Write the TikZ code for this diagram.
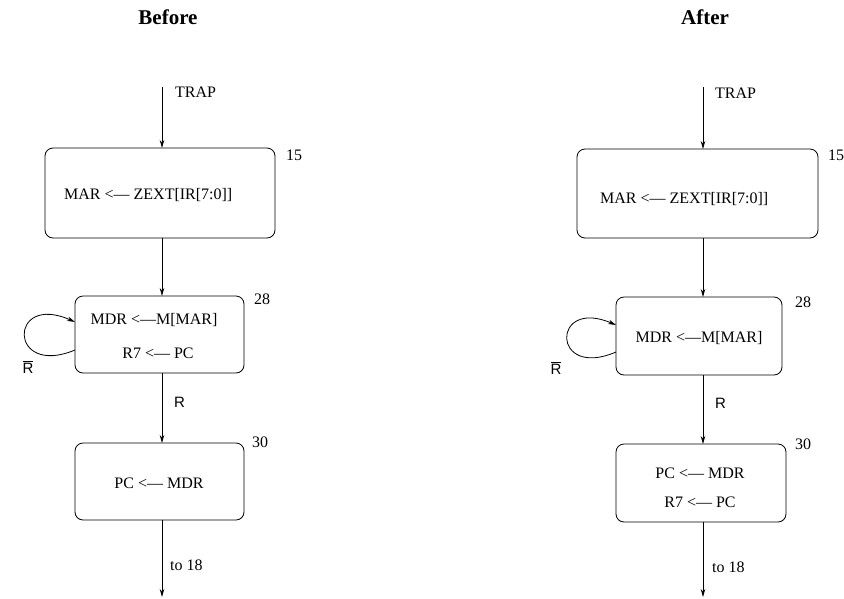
\documentclass[tikz,border=0pt]{standalone}
\usepackage{fontspec}
\setmainfont{Liberation Serif}
\newfontfamily\sansR{Liberation Sans}
\usetikzlibrary{arrows.meta}
\begin{document}
\begin{tikzpicture}[x=1pt,y=-1pt,
  stbox/.style={draw,rounded corners=8pt,line width=0.8pt,inner sep=0pt,outer sep=0pt},
  txt/.style={font=\fontsize{16}{19}\selectfont,inner sep=0pt},
  rlab/.style={font=\sansR\fontsize{15}{18}\selectfont,inner sep=0pt},
  ttl/.style={font=\fontsize{21}{25}\selectfont\bfseries,inner sep=0pt},
  arr/.style={-{Stealth[length=8pt,width=4.5pt]},line width=0.8pt}]
\useasboundingbox (0,0) rectangle (844,598);

% ---------- Before ----------
\node[ttl] (tB) at (168,17) {Before};
\coordinate (sL) at (162,87);
\node[stbox,minimum width=230pt,minimum height=90pt] (b15L) at (160,193) {};
\node[stbox,minimum width=169pt,minimum height=77pt] (b28L) at (159.5,334.5) {};
\node[stbox,minimum width=169pt,minimum height=77pt] (b30L) at (159.5,481.5) {};
\coordinate (eL) at (162,597);

\node[txt,anchor=west] (trapL) at (175,92) {TRAP};
\node[txt,anchor=west] (m15L) at (64,195) {MAR <--- ZEXT[IR[7:0]]};
\node[txt] (n15L) at (294,155) {15};
\node[txt] (m28aL) at (154,320) {MDR <---M[MAR]};
\node[txt] (m28bL) at (158,353) {R7 <--- PC};
\node[txt] (n28L) at (262,299) {28};
\node[txt] (m30L) at (159,483) {PC <--- MDR};
\node[txt] (n30L) at (260,442) {30};
\node[txt,anchor=west] (toL) at (170,565) {to 18};
\node[rlab,anchor=west] (rL) at (174,402) {R};
\node[rlab] (rbL) at (28,367) {$\overline{\mbox{R}}$};

\draw[arr] (sL) -- (sL |- b15L.north);
\draw[arr] (sL |- b15L.south) -- (sL |- b28L.north);
\draw[arr] (sL |- b28L.south) -- (sL |- b30L.north);
\draw[arr] (sL |- b30L.south) -- (eL);
\draw[arr] ([yshift=-15.5pt]b28L.west) .. controls (8,378) and (8,292) .. ([yshift=12.5pt]b28L.west);

% ---------- After ----------
\node[ttl] (tA) at (705,17) {After};
\coordinate (sR) at (703,87);
\node[stbox,minimum width=241pt,minimum height=89pt] (b15R) at (697.5,193.5) {};
\node[stbox,minimum width=166pt,minimum height=78pt] (b28R) at (699,336) {};
\node[stbox,minimum width=170pt,minimum height=78pt] (b30R) at (701,483) {};
\coordinate (eR) at (703,597);

\node[txt,anchor=west] (trapR) at (715,93) {TRAP};
\node[txt,anchor=west] (m15R) at (600,199) {MAR <--- ZEXT[IR[7:0]]};
\node[txt] (n15R) at (836,155) {15};
\node[txt] (m28R) at (699,338) {MDR <---M[MAR]};
\node[txt] (n28R) at (803,302) {28};
\node[txt] (m30aR) at (700,473) {PC <--- MDR};
\node[txt] (m30bR) at (700,502) {R7 <--- PC};
\node[txt] (n30R) at (803,444) {30};
\node[txt,anchor=west] (toR) at (712,567) {to 18};
\node[rlab,anchor=west] (rR) at (715,403) {R};
\node[rlab] (rbR) at (556,368) {$\overline{\mbox{R}}$};

\draw[arr] (sR) -- (sR |- b15R.north);
\draw[arr] (sR |- b15R.south) -- (sR |- b28R.north);
\draw[arr] (sR |- b28R.south) -- (sR |- b30R.north);
\draw[arr] (sR |- b30R.south) -- (eR);
\draw[arr] ([yshift=-16pt]b28R.west) .. controls (551,380) and (551,297) .. ([yshift=11pt]b28R.west);
\end{tikzpicture}
\end{document}
